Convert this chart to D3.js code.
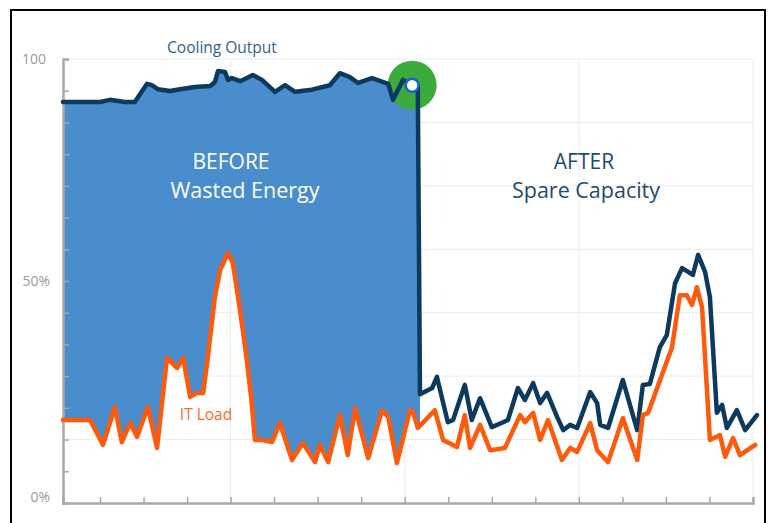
<!DOCTYPE html>
<html><head><meta charset="utf-8">
<script src="https://cdn.jsdelivr.net/npm/d3@7"></script>
<style>body{margin:0;background:#fff} svg{display:block}</style>
</head><body><svg id="c" width="768" height="523"></svg>
<script>
// ---- data ----
const coolingTime = [1.5,10.0,12.3,15.7,18.0,20.8,21.9,23.3,26.1,28.4,31.8,35.3,36.4,37.1,38.7,39.4,40.3,42.2,45.1,47.2,50.2,52.5,54.8,58.2,62.8,65.1,67.4,69.3,72.5,76.2,77.3,79.6,81.7,83.0,83.5,86.3,87.4,89.9,91.1,93.8,95.4,97.3,100.0,102.6,103.7,106.0,107.6,109.5,111.1,112.7,115.0,116.4,118.0,119.6,122.6,124.2,124.9,126.7,130.1,133.4,134.7,136.3,138.6,140.2,142.1,143.7,146.2,147.4,149.0,150.1,151.7,152.9,154.0,156.3,158.2,160.9];
const coolingOutput = [90.3,90.3,90.8,90.3,90.3,94.4,94.1,93.2,92.8,93.2,93.7,93.9,94.8,97.3,97.1,95.3,95.7,95.0,96.4,95.3,92.6,94.1,92.6,93.0,94.1,96.8,95.9,94.6,95.7,94.4,90.8,95.3,94.1,93.9,24.5,25.9,28.4,18.2,18.7,26.6,18.7,23.6,17.1,18.2,18.7,25.9,23.2,27.0,22.5,24.8,19.4,16.4,17.6,16.9,25.0,22.5,17.6,16.9,27.7,16.4,26.6,26.8,35.1,37.8,49.5,52.9,51.4,55.9,52.0,46.4,20.3,22.1,16.9,20.9,16.4,19.8];
const itTime = [1.5,7.7,10.7,13.4,15.0,16.9,18.5,21.0,23.1,25.4,27.7,29.1,30.7,32.3,33.7,34.6,35.5,36.4,37.6,39.4,40.5,41.7,42.8,43.8,44.7,45.6,47.4,49.5,51.3,54.1,56.6,59.4,60.5,62.4,65.1,66.9,68.6,71.6,74.8,76.2,78.2,81.2,81.9,83.0,86.9,88.8,92.0,93.8,95.0,97.3,99.6,103.0,106.5,107.6,109.5,111.1,112.9,116.1,118.0,119.6,122.6,124.2,126.7,130.1,133.4,134.7,135.9,141.4,143.2,144.8,146.0,147.1,148.3,150.1,152.4,153.6,155.4,157.0,160.5];
const itLoad = [18.7,18.7,13.1,21.6,13.7,18.0,14.9,21.6,12.4,32.7,30.4,32.7,23.9,24.8,24.8,31.5,39.0,46.4,52.5,56.3,54.1,46.4,39.0,31.5,23.9,14.2,14.2,13.7,18.0,9.7,13.5,9.2,13.1,9.2,19.8,10.8,21.4,10.1,20.9,19.4,9.0,20.9,20.5,16.9,20.9,14.2,12.6,19.8,12.4,17.6,11.9,12.4,19.8,18.2,20.3,14.2,18.7,9.7,12.4,11.5,18.0,11.9,9.2,19.1,9.7,19.8,20.3,35.1,46.8,46.8,44.6,48.6,44.1,14.2,15.3,10.4,14.6,10.8,13.1];
const xTickValues = d3.range(10, 161, 10);
const xGridValues = [40, 80, 120, 160];
const yTickValues = d3.range(0, 15).map(i => i * 100 / 14);
const yGridValues = d3.range(1, 8).map(i => i * 100 / 7);
const yLabelValues = [0, 50, 100];
const yLabelTexts = ["0%", "50%", "100"];
const switchTime = 83.5;      // moment of the change (end of the wasted-energy area)
const markerIndex = 32;       // cooling point marked by the green dot

// ---- chart ----
const svg = d3.select("#c");
const x = d3.scaleLinear().domain([1.5, 160]).range([63, 753]);
const y = d3.scaleLinear().domain([0, 100]).range([503, 59]);
const cooling = coolingTime.map((t, i) => ({t, v: coolingOutput[i]}));
const it = itTime.map((t, i) => ({t, v: itLoad[i]}));
const FONT = "'Open Sans', 'DejaVu Sans', sans-serif";

// frame
svg.append("rect").attr("x", 11).attr("y", 10).attr("width", 754).attr("height", 530)
  .attr("fill", "none").attr("stroke", "#000").attr("stroke-width", 2);

// grid
svg.append("g").selectAll("line").data(yGridValues).join("line")
  .attr("x1", x(1.5)).attr("x2", x(160)).attr("y1", d => y(d)).attr("y2", d => y(d))
  .attr("stroke", "#ececec").attr("stroke-width", 1);
svg.append("g").selectAll("line").data(xGridValues).join("line")
  .attr("x1", d => x(d)).attr("x2", d => x(d)).attr("y1", y(0)).attr("y2", y(100))
  .attr("stroke", "#ececec").attr("stroke-width", 1);

const line = d3.line().x(d => x(d.t)).y(d => y(d.v));

// wasted energy area (between cooling output and IT load, before the switch)
const coolPts = cooling.filter(d => d.t <= switchTime);
const itPts = it.filter(d => d.t < switchTime);
const k = it.findIndex(d => d.t >= switchTime);
const a = it[k - 1], b = it[k];
const vEnd = a.v + (b.v - a.v) * (switchTime - a.t) / (b.t - a.t);
const poly = coolPts.concat([{t: switchTime, v: vEnd}], itPts.slice().reverse());
svg.append("path").attr("d", line(poly) + "Z").attr("fill", "#4a8dcc");

// axes
const yAxis = d3.axisRight(y).tickValues(yTickValues).tickSize(6).tickFormat("");
const gy = svg.append("g").attr("transform", `translate(${x(1.5)},0)`).call(yAxis);
const xAxis = d3.axisTop(x).tickValues(xTickValues).tickSize(6).tickFormat("");
const gx = svg.append("g").attr("transform", `translate(0,${y(0)})`).call(xAxis);
[gx, gy].forEach(g => {
  g.select(".domain").attr("stroke", "#a9a9a9").attr("stroke-width", 2.5);
  g.selectAll(".tick line").attr("stroke", "#a9a9a9").attr("stroke-width", 1.5);
});

svg.append("g").selectAll("text").data(yLabelValues).join("text")
  .attr("x", (d, i) => i === 2 ? 46 : 50).attr("y", d => y(d)).attr("dy", (d, i) => i === 0 ? "-0.05em" : "0.35em")
  .attr("text-anchor", "end").attr("font-family", FONT).attr("font-size", 14)
  .attr("fill", "#9a9a9a").text((d, i) => yLabelTexts[i]);

// green marker
const m = cooling[markerIndex];
svg.append("circle").attr("cx", x(m.t)).attr("cy", y(m.v)).attr("r", 24.5).attr("fill", "#3bab3c");

// lines
svg.append("path").attr("d", line(cooling)).attr("fill", "none").attr("stroke", "#0c3a5f")
  .attr("stroke-width", 4.5).attr("stroke-linejoin", "round").attr("stroke-linecap", "round");
svg.append("path").attr("d", line(it)).attr("fill", "none").attr("stroke", "#ff5a0c")
  .attr("stroke-width", 4.5).attr("stroke-linejoin", "round").attr("stroke-linecap", "round");

svg.append("circle").attr("cx", x(m.t)).attr("cy", y(m.v)).attr("r", 6.5)
  .attr("fill", "#fff").attr("stroke", "#1a62d6").attr("stroke-width", 2.5);

// labels
function label(t, px, py, size, color) {
  svg.append("text").attr("x", px).attr("y", py).attr("dy", "0.35em").attr("text-anchor", "middle")
    .attr("font-family", FONT).attr("font-size", size).attr("fill", color).text(t);
}
label("Cooling Output", 222, 48, 15.5, "#2f5f8a");
label("BEFORE", 231, 162, 21, "#ffffff");
label("Wasted Energy", 245, 190, 21.5, "#ffffff");
label("AFTER", 584, 162, 21, "#1d4a73");
label("Spare Capacity", 586, 190, 21.5, "#1d4a73");
label("IT Load", 206, 415, 15.5, "#ff6a1f");
</script>
</body></html>
